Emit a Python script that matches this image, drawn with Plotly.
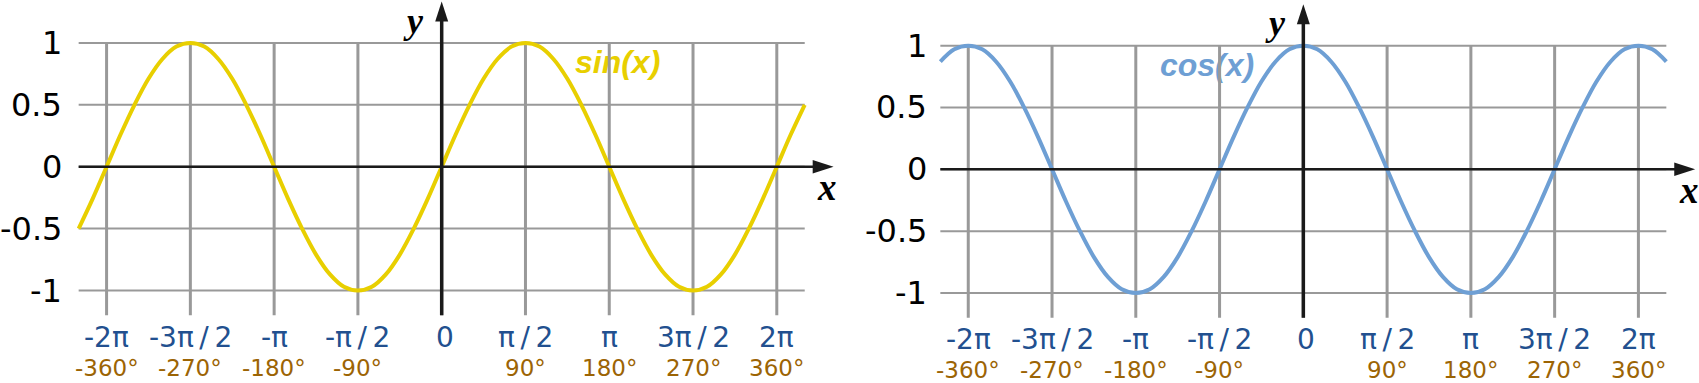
import plotly.graph_objects as go

# ---------------- data ----------------
x_deg = [-390, -375, -360, -345, -330, -315, -300, -285, -270, -255, -240, -225, -210,
         -195, -180, -165, -150, -135, -120, -105, -90, -75, -60, -45, -30, -15, 0,
         15, 30, 45, 60, 75, 90, 105, 120, 135, 150, 165, 180, 195, 210, 225, 240,
         255, 270, 285, 300, 315, 330, 345, 360, 375, 390]
sin_y = [-0.5, -0.26, 0, 0.26, 0.5, 0.71, 0.87, 0.97, 1, 0.97, 0.87, 0.71, 0.5,
         0.26, 0, -0.26, -0.5, -0.71, -0.87, -0.97, -1, -0.97, -0.87, -0.71, -0.5, -0.26, 0,
         0.26, 0.5, 0.71, 0.87, 0.97, 1, 0.97, 0.87, 0.71, 0.5, 0.26, 0, -0.26, -0.5, -0.71, -0.87,
         -0.97, -1, -0.97, -0.87, -0.71, -0.5, -0.26, 0, 0.26, 0.5]
cos_y = [0.87, 0.97, 1, 0.97, 0.87, 0.71, 0.5, 0.26, 0, -0.26, -0.5, -0.71, -0.87,
         -0.97, -1, -0.97, -0.87, -0.71, -0.5, -0.26, 0, 0.26, 0.5, 0.71, 0.87, 0.97, 1,
         0.97, 0.87, 0.71, 0.5, 0.26, 0, -0.26, -0.5, -0.71, -0.87, -0.97, -1, -0.97, -0.87, -0.71, -0.5,
         -0.26, 0, 0.26, 0.5, 0.71, 0.87, 0.97, 1, 0.97, 0.87]
tick_deg = [-360, -270, -180, -90, 0, 90, 180, 270, 360]
tick_pi = ["-2π", "-3π\u2009/\u20092", "-π", "-π\u2009/\u20092", "0",
           "π\u2009/\u20092", "π", "3π\u2009/\u20092", "2π"]
tick_degree = ["-360°", "-270°", "-180°", "-90°", "", "90°", "180°", "270°", "360°"]
y_ticks = [-1, -0.5, 0, 0.5, 1]
y_tick_labels = ["-1", "-0.5", "0", "0.5", "1"]
series_names = ["sin(x)", "cos(x)"]
series_values = [sin_y, cos_y]

# ---------------- style ----------------
COLORS = ["#e8cf00", "#6e9fd4"]
GRID = "#999999"
AXIS = "#1a1a1a"
PI_COLOR = "#22508f"
DEG_COLOR = "#9c6404"
X_LO, X_HI = -390, 390
GRID_BOTTOM = -1.2
X_TIP = 421
Y_TIP = 1.335

panels = [
    dict(xa="x", ya="y", xr=[-474.5, 438.1], yr=[-1.747, 1.3465], dom=[0, 0.5],
         lab=(189, 0.82), ylab_shift=-16),
    dict(xa="x2", ya="y2", xr=[-487.6, 425.1], yr=[-1.728, 1.369], dom=[0.5, 1],
         lab=(-103.5, 0.82), ylab_shift=-12),
]

fig = go.Figure()
annotations = []

for i, p in enumerate(panels):
    common = dict(xaxis=p["xa"], yaxis=p["ya"], hoverinfo="skip", showlegend=False)
    # function name label (drawn below the grid)
    fig.add_trace(go.Scatter(
        x=[p["lab"][0]], y=[p["lab"][1]], mode="text", text=[series_names[i]],
        textposition="middle center",
        textfont=dict(family="Liberation Sans", size=32, color=COLORS[i],
                      weight="bold", style="italic"), **common))
    # vertical grid
    gx, gy = [], []
    for t in tick_deg:
        gx += [t, t, None]
        gy += [1, GRID_BOTTOM, None]
    fig.add_trace(go.Scatter(x=gx, y=gy, mode="lines", line=dict(color=GRID, width=3), **common))
    # horizontal grid
    hx, hy = [], []
    for yt in y_ticks:
        hx += [X_LO, X_HI, None]
        hy += [yt, yt, None]
    fig.add_trace(go.Scatter(x=hx, y=hy, mode="lines", line=dict(color=GRID, width=2), **common))
    # curve
    fig.add_trace(go.Scatter(
        x=x_deg, y=series_values[i], mode="lines",
        line=dict(color=COLORS[i], width=4, shape="spline", smoothing=1.0),
        xaxis=p["xa"], yaxis=p["ya"], name=series_names[i], showlegend=False))
    # axes lines
    fig.add_trace(go.Scatter(x=[X_LO, X_TIP - 10], y=[0, 0], mode="lines",
                             line=dict(color=AXIS, width=2.5), **common))
    fig.add_trace(go.Scatter(x=[0, 0], y=[GRID_BOTTOM, Y_TIP - 0.08], mode="lines",
                             line=dict(color=AXIS, width=3.5), **common))
    # arrow heads
    fig.add_trace(go.Scatter(x=[X_TIP], y=[0], mode="markers",
                             marker=dict(symbol="arrow", size=22, angle=90, color=AXIS,
                                         line=dict(width=0)), **common))
    fig.add_trace(go.Scatter(x=[0], y=[Y_TIP], mode="markers",
                             marker=dict(symbol="arrow", size=21, angle=0, color=AXIS,
                                         line=dict(width=0)), **common))

    xref, yref = p["xa"], p["ya"]
    # axis names
    annotations.append(dict(x=-30, y=1.18, xref=xref, yref=yref, text="y", showarrow=False,
                            xanchor="center", yanchor="middle", borderpad=0,
                            font=dict(family="Liberation Serif", size=36, color="#000000",
                                      weight="bold", style="italic")))
    annotations.append(dict(x=414, y=-0.17, xref=xref, yref=yref, text="x", showarrow=False,
                            xanchor="center", yanchor="middle", borderpad=0,
                            font=dict(family="Liberation Serif", size=37, color="#000000",
                                      weight="bold", style="italic")))
    # y tick labels
    for yt, yl in zip(y_ticks, y_tick_labels):
        annotations.append(dict(x=X_LO, y=yt, xref=xref, yref=yref, text=yl, showarrow=False,
                                xanchor="right", yanchor="middle", xshift=p["ylab_shift"],
                                borderpad=0,
                                font=dict(family="DejaVu Sans", size=32, color="#000000")))
    # x tick labels
    for t, lp, ld in zip(tick_deg, tick_pi, tick_degree):
        annotations.append(dict(x=t, y=-1, xref=xref, yref=yref, text=lp, showarrow=False,
                                xanchor="center", yanchor="middle", yshift=-47,
                                xshift=3 if t == 0 else 0, borderpad=0,
                                font=dict(family="DejaVu Sans", size=28, color=PI_COLOR)))
        if ld:
            annotations.append(dict(x=t, y=-1, xref=xref, yref=yref, text=ld, showarrow=False,
                                    xanchor="center", yanchor="middle", yshift=-77,
                                    borderpad=0,
                                    font=dict(family="DejaVu Sans", size=23, color=DEG_COLOR)))

fig.update_layout(
    width=1699, height=383,
    margin=dict(l=0, r=0, t=0, b=0),
    paper_bgcolor="white", plot_bgcolor="white",
    showlegend=False,
    annotations=annotations,
    xaxis=dict(domain=panels[0]["dom"], range=panels[0]["xr"], visible=False, fixedrange=True),
    yaxis=dict(domain=[0, 1], range=panels[0]["yr"], visible=False, fixedrange=True),
    xaxis2=dict(domain=panels[1]["dom"], range=panels[1]["xr"], visible=False, fixedrange=True),
    yaxis2=dict(domain=[0, 1], range=panels[1]["yr"], visible=False, fixedrange=True,
                anchor="x2"),
)

fig.write_html("out.html", config={"displayModeBar": False},
               post_script="document.body.style.margin='0';document.body.style.overflow='hidden';")
